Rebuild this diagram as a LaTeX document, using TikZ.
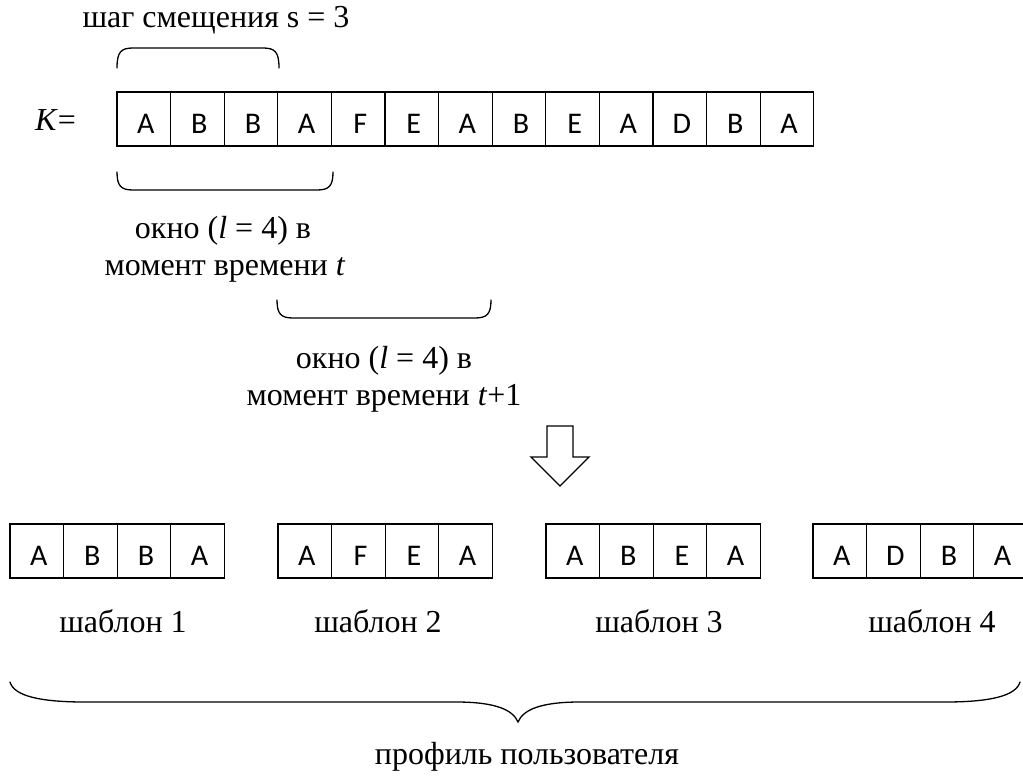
\documentclass[tikz,border=0pt]{standalone}
\usepackage{fontspec}
\setmainfont{Liberation Serif}
\newfontfamily\cellfont{Carlito}
\begin{document}
\begin{tikzpicture}[x=1pt,y=-1pt,
  cell/.style={draw,line width=1.3pt,minimum width=53.6pt,inner sep=0pt,
     text height=41pt,text depth=13pt,font=\cellfont\fontsize{30}{32}\selectfont},
  lbl/.style={anchor=base,inner sep=0pt,font=\fontsize{32}{36}\selectfont},
  brace/.style={line width=1.3pt,line cap=round}]
\useasboundingbox (0,0) rectangle (1023,776);
\clip (0,0) rectangle (1023,776);
% title
\node[lbl] (title) at (216,28) {шаг смещения s = 3};
% K=
\node[lbl,anchor=base west] (K) at (35,130) {\textit{K}=};
% K cells
\foreach \c [count=\i] in {A,B,B,A,F,E,A,B,E,A,D,B,A}
  \node[cell] (k\i) at ({117+26.8+53.6*(\i-1)},119) {\kern4pt\c};
% top brace (step)
\draw[brace] (117,68) .. controls (117,52) and (121,48) .. (133,48) -- (263,48)
   .. controls (275,48) and (279,52) .. (279,68);
% bottom brace (window t)
\draw[brace] (117,172) .. controls (117,186) and (121,190) .. (133,190) -- (317,190)
   .. controls (329,190) and (333,186) .. (333,172);
\node[lbl] (w1a) at (223,238) {окно (\textit{l} = 4) в};
\node[lbl] (w1b) at (225,275) {момент времени \textit{t}};
% brace window t+1
\draw[brace] (277,300) .. controls (277,314) and (281,318) .. (293,318) -- (475,318)
   .. controls (487,318) and (491,314) .. (491,300);
\node[lbl] (w2a) at (384,368) {окно (\textit{l} = 4) в};
\node[lbl] (w2b) at (384,405) {момент времени \textit{t}+1};
% arrow
\draw[line width=1.3pt,line join=miter] (547,426) -- (573,426) -- (573,457) -- (589,457)
   -- (560,486) -- (531,457) -- (547,457) -- cycle;
% templates
\foreach \x [count=\j] in {10,278,546,813}{
  \foreach \c [count=\i] in {1,2,3,4}
    \coordinate (tpos\j\i) at ({\x+26.8+53.6*(\i-1)},551);
}
\foreach \c [count=\i] in {A,B,B,A} \node[cell] (ta\i) at (tpos1\i) {\kern4pt\c};
\foreach \c [count=\i] in {A,F,E,A} \node[cell] (tb\i) at (tpos2\i) {\kern4pt\c};
\foreach \c [count=\i] in {A,B,E,A} \node[cell] (tc\i) at (tpos3\i) {\kern4pt\c};
\foreach \c [count=\i] in {A,D,B,A} \node[cell] (td\i) at (tpos4\i) {\kern4pt\c};
\node[lbl] (s1) at (123,632) {шаблон 1};
\node[lbl] (s2) at (378,632) {шаблон 2};
\node[lbl] (s3) at (659,632) {шаблон 3};
\node[lbl] (s4) at (932,632) {шаблон 4};
% big brace
\draw[brace] (10,682) .. controls (14,696) and (40,702) .. (85,702) -- (456,702)
   .. controls (496,702) and (513,710) .. (518,722)
   .. controls (523,710) and (540,702) .. (580,702) -- (945,702)
   .. controls (990,702) and (1016,696) .. (1020,682);
\node[lbl] (prof) at (527,764) {профиль пользователя};
\end{tikzpicture}
\end{document}
